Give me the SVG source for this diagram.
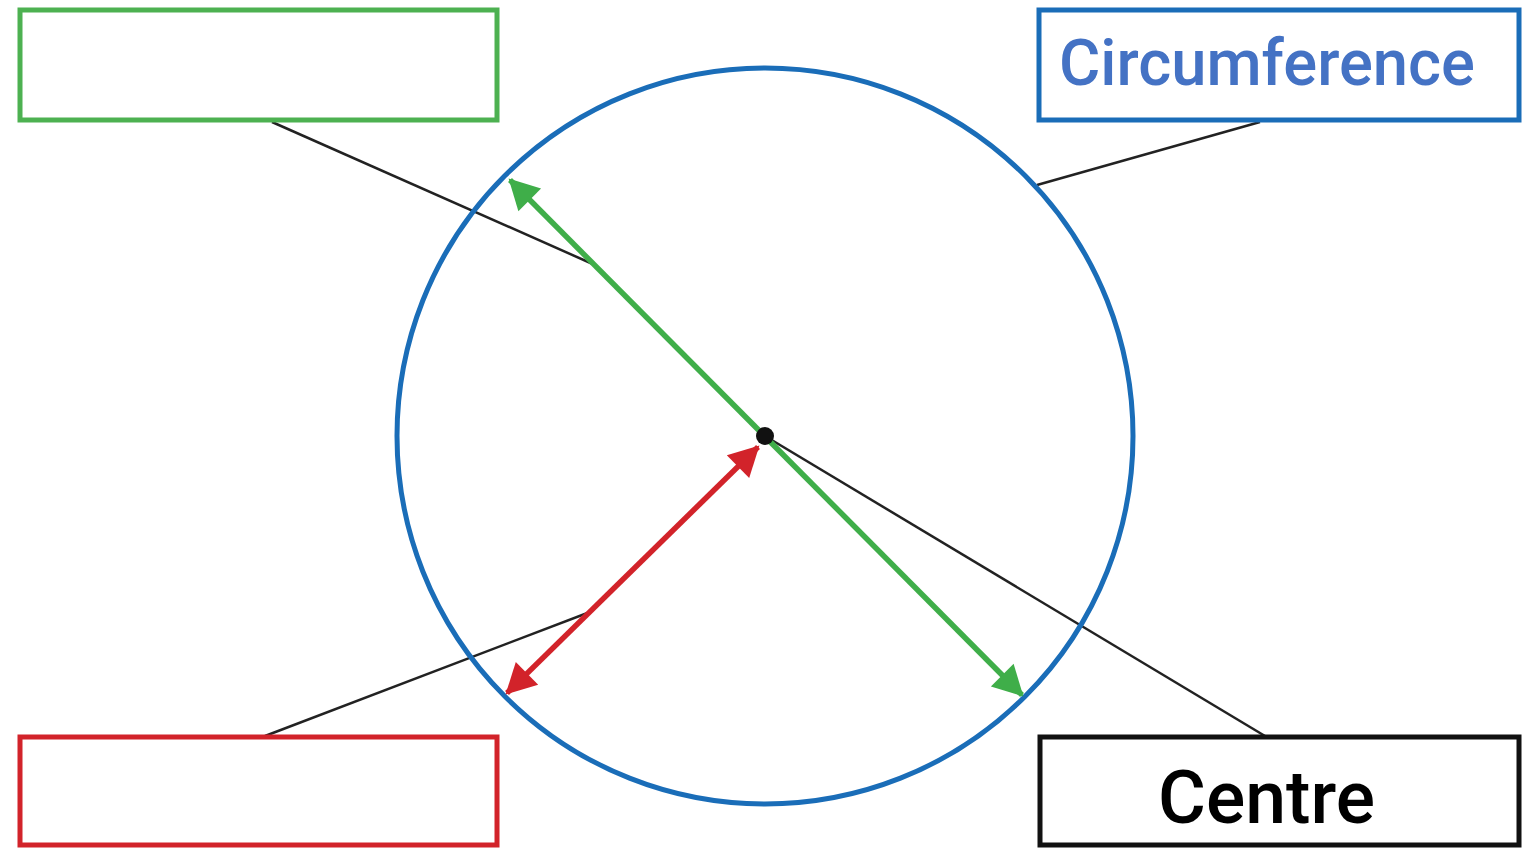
<svg xmlns="http://www.w3.org/2000/svg" width="1535" height="849" viewBox="0 0 1535 849">
<style>
.box{fill:#fff;stroke-width:5}
.lead{stroke:#222;stroke-width:2.5;fill:none}
.lbl{font-family:Roboto,"DejaVu Sans Condensed","Liberation Sans",sans-serif;font-weight:500}
</style>
<defs>
<marker id="ag" markerUnits="userSpaceOnUse" markerWidth="36" markerHeight="36" viewBox="0 0 36 36" refX="30" refY="18" orient="auto-start-reverse">
<path d="M2,2 L32,18 L2,34 Z" fill="#3fae49"/>
</marker>
<marker id="ar" markerUnits="userSpaceOnUse" markerWidth="36" markerHeight="36" viewBox="0 0 36 36" refX="30" refY="18" orient="auto-start-reverse">
<path d="M2,2 L32,18 L2,34 Z" fill="#d2232a"/>
</marker>
</defs>
<rect width="1535" height="849" fill="#fff"/>
<g id="connectors">
<line class="lead" x1="272" y1="122" x2="595" y2="265"/>
<line class="lead" x1="1260" y1="122" x2="1037" y2="185"/>
<line class="lead" x1="265" y1="736" x2="590" y2="612"/>
<line class="lead" x1="765" y1="436" x2="1265" y2="736"/>
</g>
<g id="circle">
<circle cx="765" cy="436" r="368" fill="none" stroke="#1a6db8" stroke-width="5"/>
</g>
<g id="diameter">
<line x1="510" y1="180" x2="1022" y2="695" stroke="#3fae49" stroke-width="5.5" marker-start="url(#ag)" marker-end="url(#ag)"/>
</g>
<g id="radius">
<line x1="507" y1="693" x2="758" y2="447" stroke="#d2232a" stroke-width="5.5" marker-start="url(#ar)" marker-end="url(#ar)"/>
</g>
<g id="centre-dot">
<circle cx="765" cy="436" r="9" fill="#111"/>
</g>
<g id="box-green">
<rect class="box" x="20" y="10" width="477" height="110" stroke="#4db151"/>
</g>
<g id="box-circumference">
<rect class="box" x="1039" y="10" width="480" height="110" stroke="#1a6db8"/>
<text class="lbl" x="1059" y="85" font-size="64" fill="#4472c4" textLength="416" lengthAdjust="spacingAndGlyphs">Circumference</text>
</g>
<g id="box-red">
<rect class="box" x="20" y="737" width="477" height="108" stroke="#d2232a"/>
</g>
<g id="box-centre">
<rect class="box" x="1040" y="737" width="479" height="108" stroke="#111"/>
<text class="lbl" x="1158" y="823" font-size="74" fill="#000" textLength="217" lengthAdjust="spacingAndGlyphs">Centre</text>
</g>
</svg>
